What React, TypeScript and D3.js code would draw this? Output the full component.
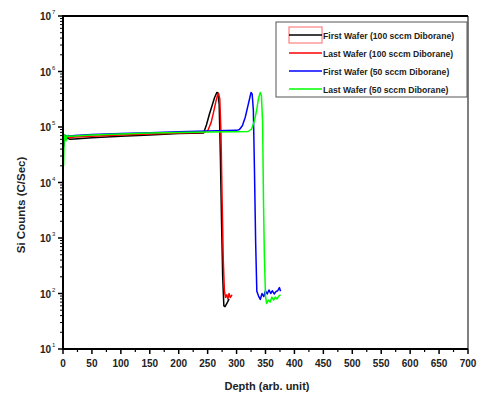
import * as d3 from "d3"

const W = 477
const H = 396
const M = { left: 63, right: 5, top: 16, bottom: 47 }

// depth axis ticks
const xMajor = [0, 50, 100, 150, 200, 250, 300, 350, 400, 450, 500, 550, 600, 650, 700]
const yExp = [1, 2, 3, 4, 5, 6, 7]

// First Wafer (100 sccm Diborane)
const blackX = [0, 1, 2, 3, 5, 8, 12, 20, 50, 100, 150, 200, 243, 248, 253, 258, 262, 266, 268, 270, 272, 274, 276, 278, 280, 283, 285, 287]
const blackY = [9e4, 4.5e4, 5.8e4, 6.6e4, 6e4, 6.3e4, 6e4, 6.1e4, 6.4e4, 6.8e4, 7.2e4, 7.6e4, 7.8e4, 1.1e5, 1.7e5, 2.5e5, 3.4e5, 4.2e5, 4.1e5, 2.5e5, 3e4, 2e3, 200, 60, 58, 66, 72, 80]

// Last Wafer (100 sccm Diborane)
const redX = [0, 1, 2, 3, 5, 8, 12, 20, 50, 100, 150, 200, 243, 250, 256, 260, 264, 267, 269, 271, 273, 275, 277, 279, 281, 283, 285, 287, 289, 291, 292]
const redY = [1.2e5, 5e4, 6e4, 6.8e4, 6.5e4, 6.6e4, 6.4e4, 6.6e4, 6.8e4, 7.2e4, 7.5e4, 7.8e4, 8e4, 8.5e4, 1.2e5, 1.8e5, 2.8e5, 3.7e5, 4e5, 3.2e5, 8e4, 5e3, 400, 110, 85, 95, 80, 100, 85, 90, 95]

// First Wafer (50 sccm Diborane)
const blueX = [0, 1, 2, 3, 5, 8, 12, 20, 50, 100, 150, 200, 250, 300, 305, 310, 315, 320, 323, 325, 327, 329, 331, 333, 335, 338, 341, 344, 347, 350, 353, 356, 359, 362, 365, 368, 371, 374, 376]
const blueY = [1e5, 4.5e4, 6e4, 7.2e4, 6.8e4, 7e4, 6.9e4, 7e4, 7.3e4, 7.6e4, 7.9e4, 8.2e4, 8.5e4, 8.7e4, 9e4, 1.05e5, 1.5e5, 2.5e5, 3.4e5, 4.2e5, 3.9e5, 2e5, 1.5e4, 800, 110, 90, 78, 100, 88, 112, 98, 116, 100, 112, 98, 108, 112, 128, 110]

// Last Wafer (50 sccm Diborane)
const greenX = [0, 1, 2, 3, 5, 7, 10, 20, 50, 100, 150, 200, 250, 300, 320, 326, 331, 335, 338, 341, 343, 345, 346.5, 348, 350, 352, 355, 358, 361, 364, 367, 370, 373, 376]
const greenY = [1.4e5, 2e4, 6e4, 7.2e4, 5.6e4, 7e4, 6.8e4, 6.9e4, 7.2e4, 7.5e4, 7.8e4, 8e4, 8.1e4, 8.2e4, 8.3e4, 9.2e4, 1.3e5, 2.1e5, 3.3e5, 4.2e5, 3.6e5, 1.2e5, 5e3, 500, 90, 66, 76, 70, 86, 76, 86, 80, 90, 95]

const series = [
  { label: "First Wafer (100 sccm Diborane)", color: "#000000", x: blackX, y: blackY },
  { label: "Last Wafer (100 sccm Diborane)", color: "#ff0000", x: redX, y: redY },
  { label: "First Wafer (50 sccm Diborane)", color: "#0000ff", x: blueX, y: blueY },
  { label: "Last Wafer (50 sccm Diborane)", color: "#00ff00", x: greenX, y: greenY },
]

const FONT = "Liberation Sans, Arial, sans-serif"

export default function App() {
  const x = d3.scaleLinear().domain([0, 700]).range([M.left, W - M.right - 4])
  const y = d3.scaleLog().domain([10, 1e7]).range([H - M.bottom, M.top])
  const x0 = x(0)
  const x1 = x(700)
  const y0 = y(10)
  const y1 = y(1e7)

  const line = d3
    .line<[number, number]>()
    .x((d) => x(d[0]))
    .y((d) => y(d[1]))

  const xMinor = d3.range(25, 700, 50)
  const yMinor: number[] = []
  for (let e = 1; e < 7; e++) for (let k = 2; k < 10; k++) yMinor.push(k * Math.pow(10, e))

  const legX = 276
  const legY = 22

  return (
    <svg width={W} height={H} style={{ position: "absolute", left: 0, top: 0, background: "#fff" }}>
      <rect x={0} y={0} width={W} height={H} fill="#fff" />
      {series.map((s) => (
        <path
          key={s.label}
          d={line(s.x.map((v, i) => [v, s.y[i]] as [number, number])) || ""}
          fill="none"
          stroke={s.color}
          strokeWidth={1.5}
          strokeLinejoin="round"
        />
      ))}

      {/* frame */}
      <line x1={x1} y1={y1} x2={x1} y2={y0} stroke="#000" strokeWidth={1} />
      <line x1={x0 - 1} y1={y1} x2={x1} y2={y1} stroke="#000" strokeWidth={2} />
      <line x1={x0} y1={y1} x2={x0} y2={y0} stroke="#000" strokeWidth={2} />
      <line x1={x0 - 1} y1={y0} x2={x1} y2={y0} stroke="#000" strokeWidth={2} />

      {/* x ticks */}
      {xMajor.map((t) => (
        <g key={t}>
          <line x1={x(t)} x2={x(t)} y1={y0} y2={y0 + 5} stroke="#000" strokeWidth={1.5} />
          <text x={x(t)} y={y0 + 18} textAnchor="middle" fontFamily={FONT} fontSize={10} fontWeight="bold" fill="#222">
            {t}
          </text>
        </g>
      ))}
      {xMinor.map((t) => (
        <line key={t} x1={x(t)} x2={x(t)} y1={y0} y2={y0 + 3} stroke="#000" strokeWidth={1.2} />
      ))}

      {/* y ticks */}
      {yExp.map((e) => (
        <g key={e}>
          <line x1={x0 - 5} x2={x0} y1={y(Math.pow(10, e))} y2={y(Math.pow(10, e))} stroke="#000" strokeWidth={1.5} />
          <text x={x0 - 12} y={y(Math.pow(10, e)) + 4} textAnchor="end" fontFamily={FONT} fontSize={10} fontWeight="bold" fill="#222">
            10
          </text>
          <text x={x0 - 11} y={y(Math.pow(10, e)) - 2} fontFamily={FONT} fontSize={6} fill="#222">
            {e}
          </text>
        </g>
      ))}
      {yMinor.map((t) => (
        <line key={t} x1={x0 - 3} x2={x0} y1={y(t)} y2={y(t)} stroke="#000" strokeWidth={1} />
      ))}

      {/* axis titles */}
      <text x={267} y={H - 6} textAnchor="middle" fontFamily={FONT} fontSize={11} fontWeight="bold" fill="#222">
        Depth (arb. unit)
      </text>
      <text
        transform={`translate(25,205) rotate(-90)`}
        textAnchor="middle"
        fontFamily={FONT}
        fontSize={11.5}
        fontWeight="bold"
        fill="#222"
      >
        Si Counts (C/Sec)
      </text>

      {/* legend */}
      <rect x={legX} y={legY} width={191} height={75} fill="#fff" stroke="#555" strokeWidth={1} />
      <rect x={289} y={27} width={33} height={16} fill="none" stroke="#f66" strokeWidth={1} />
      {series.map((s, i) => (
        <g key={s.label}>
          <line x1={289} x2={322} y1={35 + i * 18} y2={35 + i * 18} stroke={s.color} strokeWidth={1.5} />
          <text x={323} y={38.5 + i * 18} fontFamily={FONT} fontSize={8.6} fontWeight="bold" fill="#222">
            {s.label}
          </text>
        </g>
      ))}
    </svg>
  )
}
